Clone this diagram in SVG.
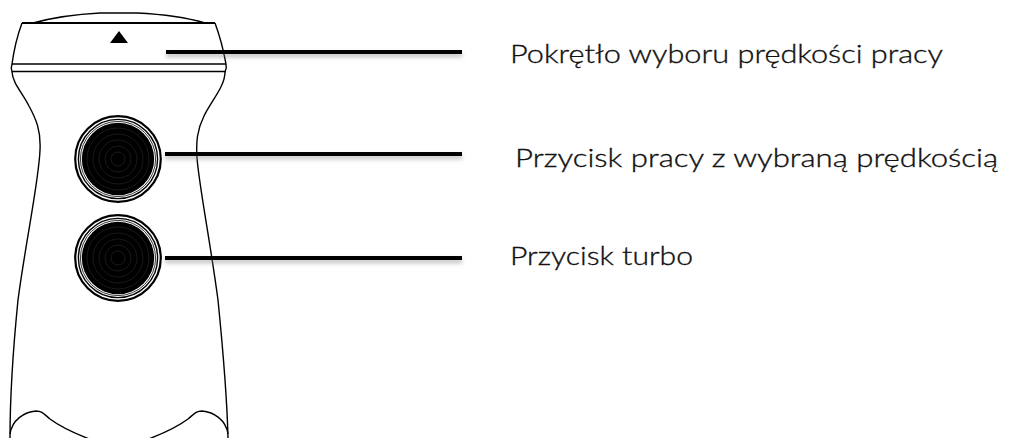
<svg xmlns="http://www.w3.org/2000/svg" width="1019" height="438" viewBox="0 0 1019 438">
  <style>
    .outline { fill: none; stroke: #000; stroke-width: 1.4; stroke-linejoin: round; }
    .leader { stroke: #000; stroke-width: 4; filter: url(#soft); }
    .label { font-family: "Lato", "Open Sans", "Liberation Sans", sans-serif; font-weight: 300; font-size: 25px; fill: #111; stroke: #111; stroke-width: 0.35; }
    .ring-outer { fill: #fff; stroke: #000; stroke-width: 2.2; }
    .ring { fill: none; stroke: #000; }
    .grain { fill: none; stroke: #333; stroke-width: 0.5; }
  </style>
  <defs>
    <filter id="soft" filterUnits="userSpaceOnUse" x="0" y="0" width="1019" height="438">
      <feDropShadow dx="0" dy="3" stdDeviation="2" flood-color="#808080" flood-opacity="0.55"/>
    </filter>
    <!-- knurled push button -->
    <g id="button">
      <circle class="ring-outer" r="42.8"/>
      <circle class="ring" r="39.6" stroke-width="1.4"/>
      <circle class="ring" r="37.6" stroke-width="0.8"/>
      <circle r="36.2" fill="#000"/>
      <circle class="grain" r="31"/>
      <circle class="grain" r="25"/>
      <circle class="grain" r="19"/>
      <circle class="grain" r="13"/>
      <circle class="grain" r="7"/>
    </g>
  </defs>

  <rect width="1019" height="438" fill="#fff"/>

  <!-- handle body -->
  <g id="handle">
    <!-- dome of the speed dial -->
    <path class="outline" d="M33,23 Q62,15 100,13 L137,13 Q178,15 205,23"/>
    <line x1="22" y1="23" x2="215" y2="23" stroke="#000" stroke-width="1.8"/>
    <!-- dial sides -->
    <path class="outline" d="M22,23 Q15,42 12,64 Q10.5,68 12,72"/>
    <path class="outline" d="M215,23 Q222,42 226,64 Q227,68 225,72"/>
    <!-- collar band -->
    <line x1="12" y1="64" x2="226" y2="64" stroke="#000" stroke-width="1.4"/>
    <line x1="12" y1="71.5" x2="226" y2="71.5" stroke="#000" stroke-width="1.4"/>
    <!-- grip sides -->
    <path class="outline" d="M12,72 C13,84 22,92 29,106 C36,119 41,130 40,150 C39,180 26,240 18,300 C14,340 10,390 10,438"/>
    <path class="outline" d="M225,72 C225,86 212,100 204,116 C197,130 196,142 197,158 C199,185 210,240 218,300 C222,340 227,395 228,438"/>
    <!-- base wave -->
    <path class="outline" d="M10,434 C12,420 24,412 36,411 C42,411 44,414 50,419 C62,428 76,434 92,440"/>
    <path class="outline" d="M228,434 C226,420 214,412 202,411 C196,411 194,414 188,419 C176,428 162,434 146,440"/>
  </g>

  <!-- speed indicator arrow -->
  <g id="indicator">
    <polygon points="110,43 128,43 119,31" fill="#000"/>
  </g>

  <g id="button-work">
    <use href="#button" x="118" y="159"/>
  </g>
  <g id="button-turbo">
    <use href="#button" x="118" y="258"/>
  </g>

  <!-- leader lines -->
  <g id="connectors">
    <line class="leader" x1="166" y1="52" x2="462" y2="52"/>
    <line class="leader" x1="165" y1="154" x2="462" y2="154"/>
    <line class="leader" x1="165" y1="258" x2="462" y2="258"/>
  </g>

  <g id="label-dial">
    <text class="label" x="510" y="63" textLength="433" lengthAdjust="spacingAndGlyphs">Pokrętło wyboru prędkości pracy</text>
  </g>
  <g id="label-work">
    <text class="label" x="515" y="167" textLength="483" lengthAdjust="spacingAndGlyphs">Przycisk pracy z wybraną prędkością</text>
  </g>
  <g id="label-turbo">
    <text class="label" x="510" y="265" textLength="183" lengthAdjust="spacingAndGlyphs">Przycisk turbo</text>
  </g>
</svg>
